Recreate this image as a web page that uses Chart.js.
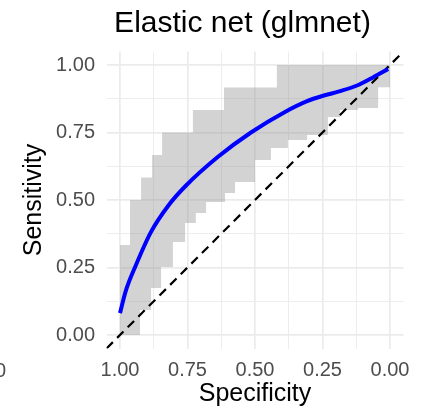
<!DOCTYPE html>
<html>
<head>
<meta charset="utf-8">
<style>
  html, body { margin: 0; padding: 0; background: #ffffff; }
  canvas { display: block; }
</style>
<script src="https://cdn.jsdelivr.net/npm/chart.js@4/dist/chart.umd.min.js"></script>
</head>
<body>
<canvas id="roc" width="426" height="411"></canvas>
<script>
// Axis ticks (both axes share the same 0..1 scale)
const majorTicks = [0, 0.25, 0.5, 0.75, 1];
const minorTicks = [0.125, 0.375, 0.625, 0.875];
const tickLabels = ['0.00', '0.25', '0.50', '0.75', '1.00'];

// Smoothed ROC curve: specificity -> sensitivity
const curveSpec = [1.0, 0.978, 0.944, 0.885, 0.822, 0.759, 0.637, 0.515, 0.389, 0.307, 0.248, 0.185, 0.122, 0.063, 0.007];
const curveSens = [0.081, 0.165, 0.252, 0.382, 0.478, 0.550, 0.660, 0.750, 0.826, 0.866, 0.886, 0.903, 0.924, 0.954, 0.985];

// Bootstrap confidence band for sensitivity (step functions of specificity)
const upperSpec = [1.0, 0.963, 0.922, 0.881, 0.844, 0.730, 0.615, 0.419, 0.0];
const upperSens = [0.333, 0.5, 0.583, 0.667, 0.75, 0.833, 0.917, 1.0, 1.0];
const lowerSpec = [1.0, 0.926, 0.885, 0.848, 0.804, 0.759, 0.719, 0.681, 0.611, 0.574, 0.5, 0.441, 0.378, 0.307, 0.230, 0.185, 0.119, 0.044, 0.0];
const lowerSens = [0.0, 0.093, 0.174, 0.252, 0.344, 0.415, 0.452, 0.493, 0.526, 0.567, 0.648, 0.693, 0.722, 0.741, 0.807, 0.833, 0.841, 0.918, 0.918];

// Chance line
const chanceSpec = [1.05, -0.05];
const chanceSens = [-0.05, 1.05];

const FONT = '"Liberation Sans", Arial, Helvetica, sans-serif';
const pts = (xs, ys) => xs.map((x, i) => ({ x: x, y: ys[i] }));
const allTicks = majorTicks.concat(minorTicks).sort((a, b) => a - b);
const isMajor = v => majorTicks.some(m => Math.abs(m - v) < 1e-9);
const labelFor = v => {
  const i = majorTicks.findIndex(m => Math.abs(m - v) < 1e-9);
  return i >= 0 ? tickLabels[i] : '';
};

function axis(extra, tickPadding) {
  return Object.assign({
    type: 'linear',
    min: -0.05,
    max: 1.05,
    afterBuildTicks: s => { s.ticks = allTicks.map(v => ({ value: v })); },
    border: { display: false },
    grid: {
      drawTicks: false,
      color: '#ebebeb',
      lineWidth: ctx => (ctx.tick && isMajor(ctx.tick.value)) ? 1.7 : 0.9
    },
    ticks: {
      autoSkip: false,
      maxRotation: 0,
      padding: tickPadding,
      color: '#4d4d4d',
      font: { family: FONT, size: 20 },
      callback: v => labelFor(v)
    }
  }, extra);
}

// Plot title plus the clipped label of the neighbouring panel
const decorations = {
  id: 'decorations',
  afterDraw(chart) {
    const ctx = chart.ctx;
    ctx.save();
    ctx.fillStyle = '#000000';
    ctx.font = '30px ' + FONT;
    ctx.textAlign = 'center';
    ctx.textBaseline = 'alphabetic';
    ctx.fillText('Elastic net (glmnet)', 242.5, 32);
    ctx.fillStyle = '#4d4d4d';
    ctx.font = '20px ' + FONT;
    ctx.textAlign = 'right';
    ctx.fillText('0.00', 6, 377);
    ctx.restore();
  }
};

new Chart(document.getElementById('roc'), {
  type: 'line',
  data: {
    datasets: [
      {
        data: pts(curveSpec, curveSens),
        borderColor: '#0000ff',
        borderWidth: 4,
        pointRadius: 0,
        cubicInterpolationMode: 'monotone',
        fill: false
      },
      {
        data: pts(chanceSpec, chanceSens),
        borderColor: '#000000',
        borderWidth: 2.2,
        borderDash: [9, 6],
        pointRadius: 0,
        fill: false
      },
      {
        data: pts(upperSpec, upperSens),
        borderWidth: 0,
        borderColor: 'rgba(0,0,0,0)',
        pointRadius: 0,
        stepped: true,
        backgroundColor: 'rgba(150,150,150,0.42)',
        fill: '+1'
      },
      {
        data: pts(lowerSpec, lowerSens),
        borderWidth: 0,
        borderColor: 'rgba(0,0,0,0)',
        pointRadius: 0,
        stepped: true,
        fill: false
      }
    ]
  },
  options: {
    responsive: false,
    animation: false,
    events: [],
    layout: { padding: { top: 51.5, right: 22.5, bottom: 0, left: 0 } },
    plugins: { legend: { display: false }, tooltip: { enabled: false }, title: { display: false } },
    scales: {
      x: axis({
        position: 'bottom',
        reverse: true,
        afterFit: s => { s.height = 62.5; },
        title: {
          display: true,
          text: 'Specificity',
          color: '#000000',
          font: { family: FONT, size: 25 },
          padding: { top: 0, bottom: 1.7 }
        }
      }, 10),
      y: axis({
        position: 'left',
        afterFit: s => { s.width = 106.5; },
        title: {
          display: true,
          text: 'Sensitivity',
          color: '#000000',
          font: { family: FONT, size: 25 },
          padding: { top: 19.3, bottom: 0 }
        }
      }, 11.5)
    }
  },
  plugins: [decorations]
});
</script>
</body>
</html>
